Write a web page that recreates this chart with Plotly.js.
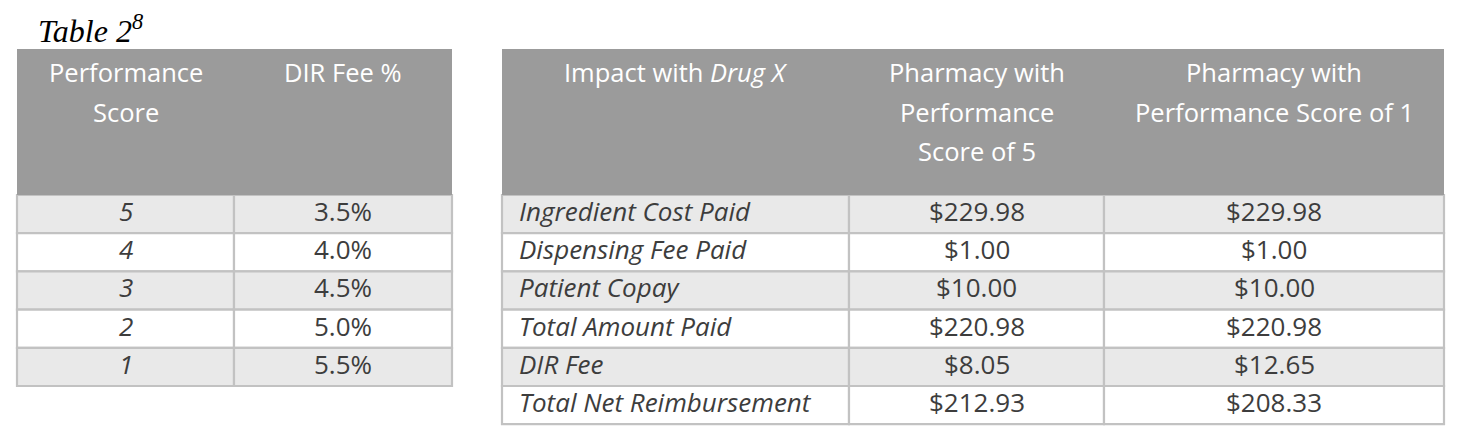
<!DOCTYPE html>
<html>
<head>
<meta charset="utf-8">
<script src="https://cdn.plot.ly/plotly-3.0.1.min.js"></script>
<style>
  html, body { margin: 0; padding: 0; background: #fff; }
  #plotArea { width: 1472px; height: 448px; }
</style>
</head>
<body>
<div id="plotArea"></div>
<script>
// left table: score -> DIR fee
var scoreHeader = ["Performance<br>Score", "DIR Fee %"];
var scores = ["5", "4", "3", "2", "1"];
var dirFeePct = [3.5, 4.0, 4.5, 5.0, 5.5];

// right table: impact with Drug X
var impactHeader = ["Impact with <i>Drug X</i>", "Pharmacy with<br>Performance<br>Score of 5", "Pharmacy with<br>Performance Score of 1"];
var impactItems = ["Ingredient Cost Paid", "Dispensing Fee Paid", "Patient Copay", "Total Amount Paid", "DIR Fee", "Total Net Reimbursement"];
var score5Values = [229.98, 1.00, 10.00, 220.98, 8.05, 212.93];
var score1Values = [229.98, 1.00, 10.00, 220.98, 12.65, 208.33];

var headGray = "#9b9b9b";
var lineGray = "#c2c2c2";
var textGray = "#3d3d3d";
var font = "Open Sans, sans-serif";

var tableTop = 49, headerH = 146, rowH = 38.2;
var lineStep = 39.5;

var shapes = [];
var annotations = [];

function money(v) { return "$" + v.toFixed(2); }
function pct(v) { return v.toFixed(1) + "%"; }
function ital(s) { return "<i>" + s + "</i>"; }

// columns: array of arrays of cell strings; aligns: per column "center" | "left"
function addTable(x0, widths, header, columns, aligns) {
    var nRows = columns[0].length;
    var total = widths.reduce(function (a, b) { return a + b; }, 0);
    var bodyTop = tableTop + headerH;
    var cx = x0;
    widths.forEach(function (w, c) {
        for (var r = 0; r < nRows; r++) {
            var y0 = bodyTop + r * rowH;
            shapes.push({
                type: "rect", xref: "x", yref: "y",
                x0: cx, x1: cx + w, y0: y0, y1: y0 + rowH,
                fillcolor: r % 2 === 0 ? "#e9e9e9" : "#ffffff",
                line: {color: lineGray, width: 2.2}
            });
            var left = aligns[c] === "left";
            annotations.push({
                xref: "x", yref: "y", showarrow: false,
                x: left ? cx + 15 : cx + w / 2,
                xanchor: left ? "left" : "center",
                y: y0 + 16, yanchor: "middle",
                text: columns[c][r],
                font: {family: font, size: 26, color: textGray}
            });
        }
        header[c].split("<br>").forEach(function (line, i) {
            annotations.push({
                xref: "x", yref: "y", showarrow: false,
                x: cx + w / 2, xanchor: "center",
                y: tableTop + 23 + i * lineStep, yanchor: "middle",
                text: line,
                font: {family: font, size: 25.5, color: "#ffffff"}
            });
        });
        cx += w;
    });
    shapes.push({
        type: "rect", xref: "x", yref: "y",
        x0: x0, x1: x0 + total, y0: tableTop, y1: bodyTop,
        fillcolor: headGray, line: {width: 0}
    });
}

addTable(17, [217, 218], scoreHeader,
    [scores.map(ital), dirFeePct.map(pct)], ["center", "center"]);
addTable(502, [347, 255, 340], impactHeader,
    [impactItems.map(ital), score5Values.map(money), score1Values.map(money)], ["left", "center", "center"]);

annotations.push({
    xref: "x", yref: "y", showarrow: false,
    x: 36, xanchor: "left", y: 29, yanchor: "middle",
    text: "<i>Table 2<sup>8</sup></i>",
    font: {family: "Liberation Serif, serif", size: 32, color: "#000000"}
});

var layout = {
    width: 1472,
    height: 448,
    margin: {l: 0, r: 0, t: 0, b: 0},
    paper_bgcolor: "#ffffff",
    plot_bgcolor: "#ffffff",
    showlegend: false,
    xaxis: {range: [0, 1472], visible: false, fixedrange: true},
    yaxis: {range: [448, 0], visible: false, fixedrange: true},
    shapes: shapes,
    annotations: annotations
};

Plotly.newPlot("plotArea", [], layout, {displayModeBar: false, staticPlot: true});
</script>
</body>
</html>
